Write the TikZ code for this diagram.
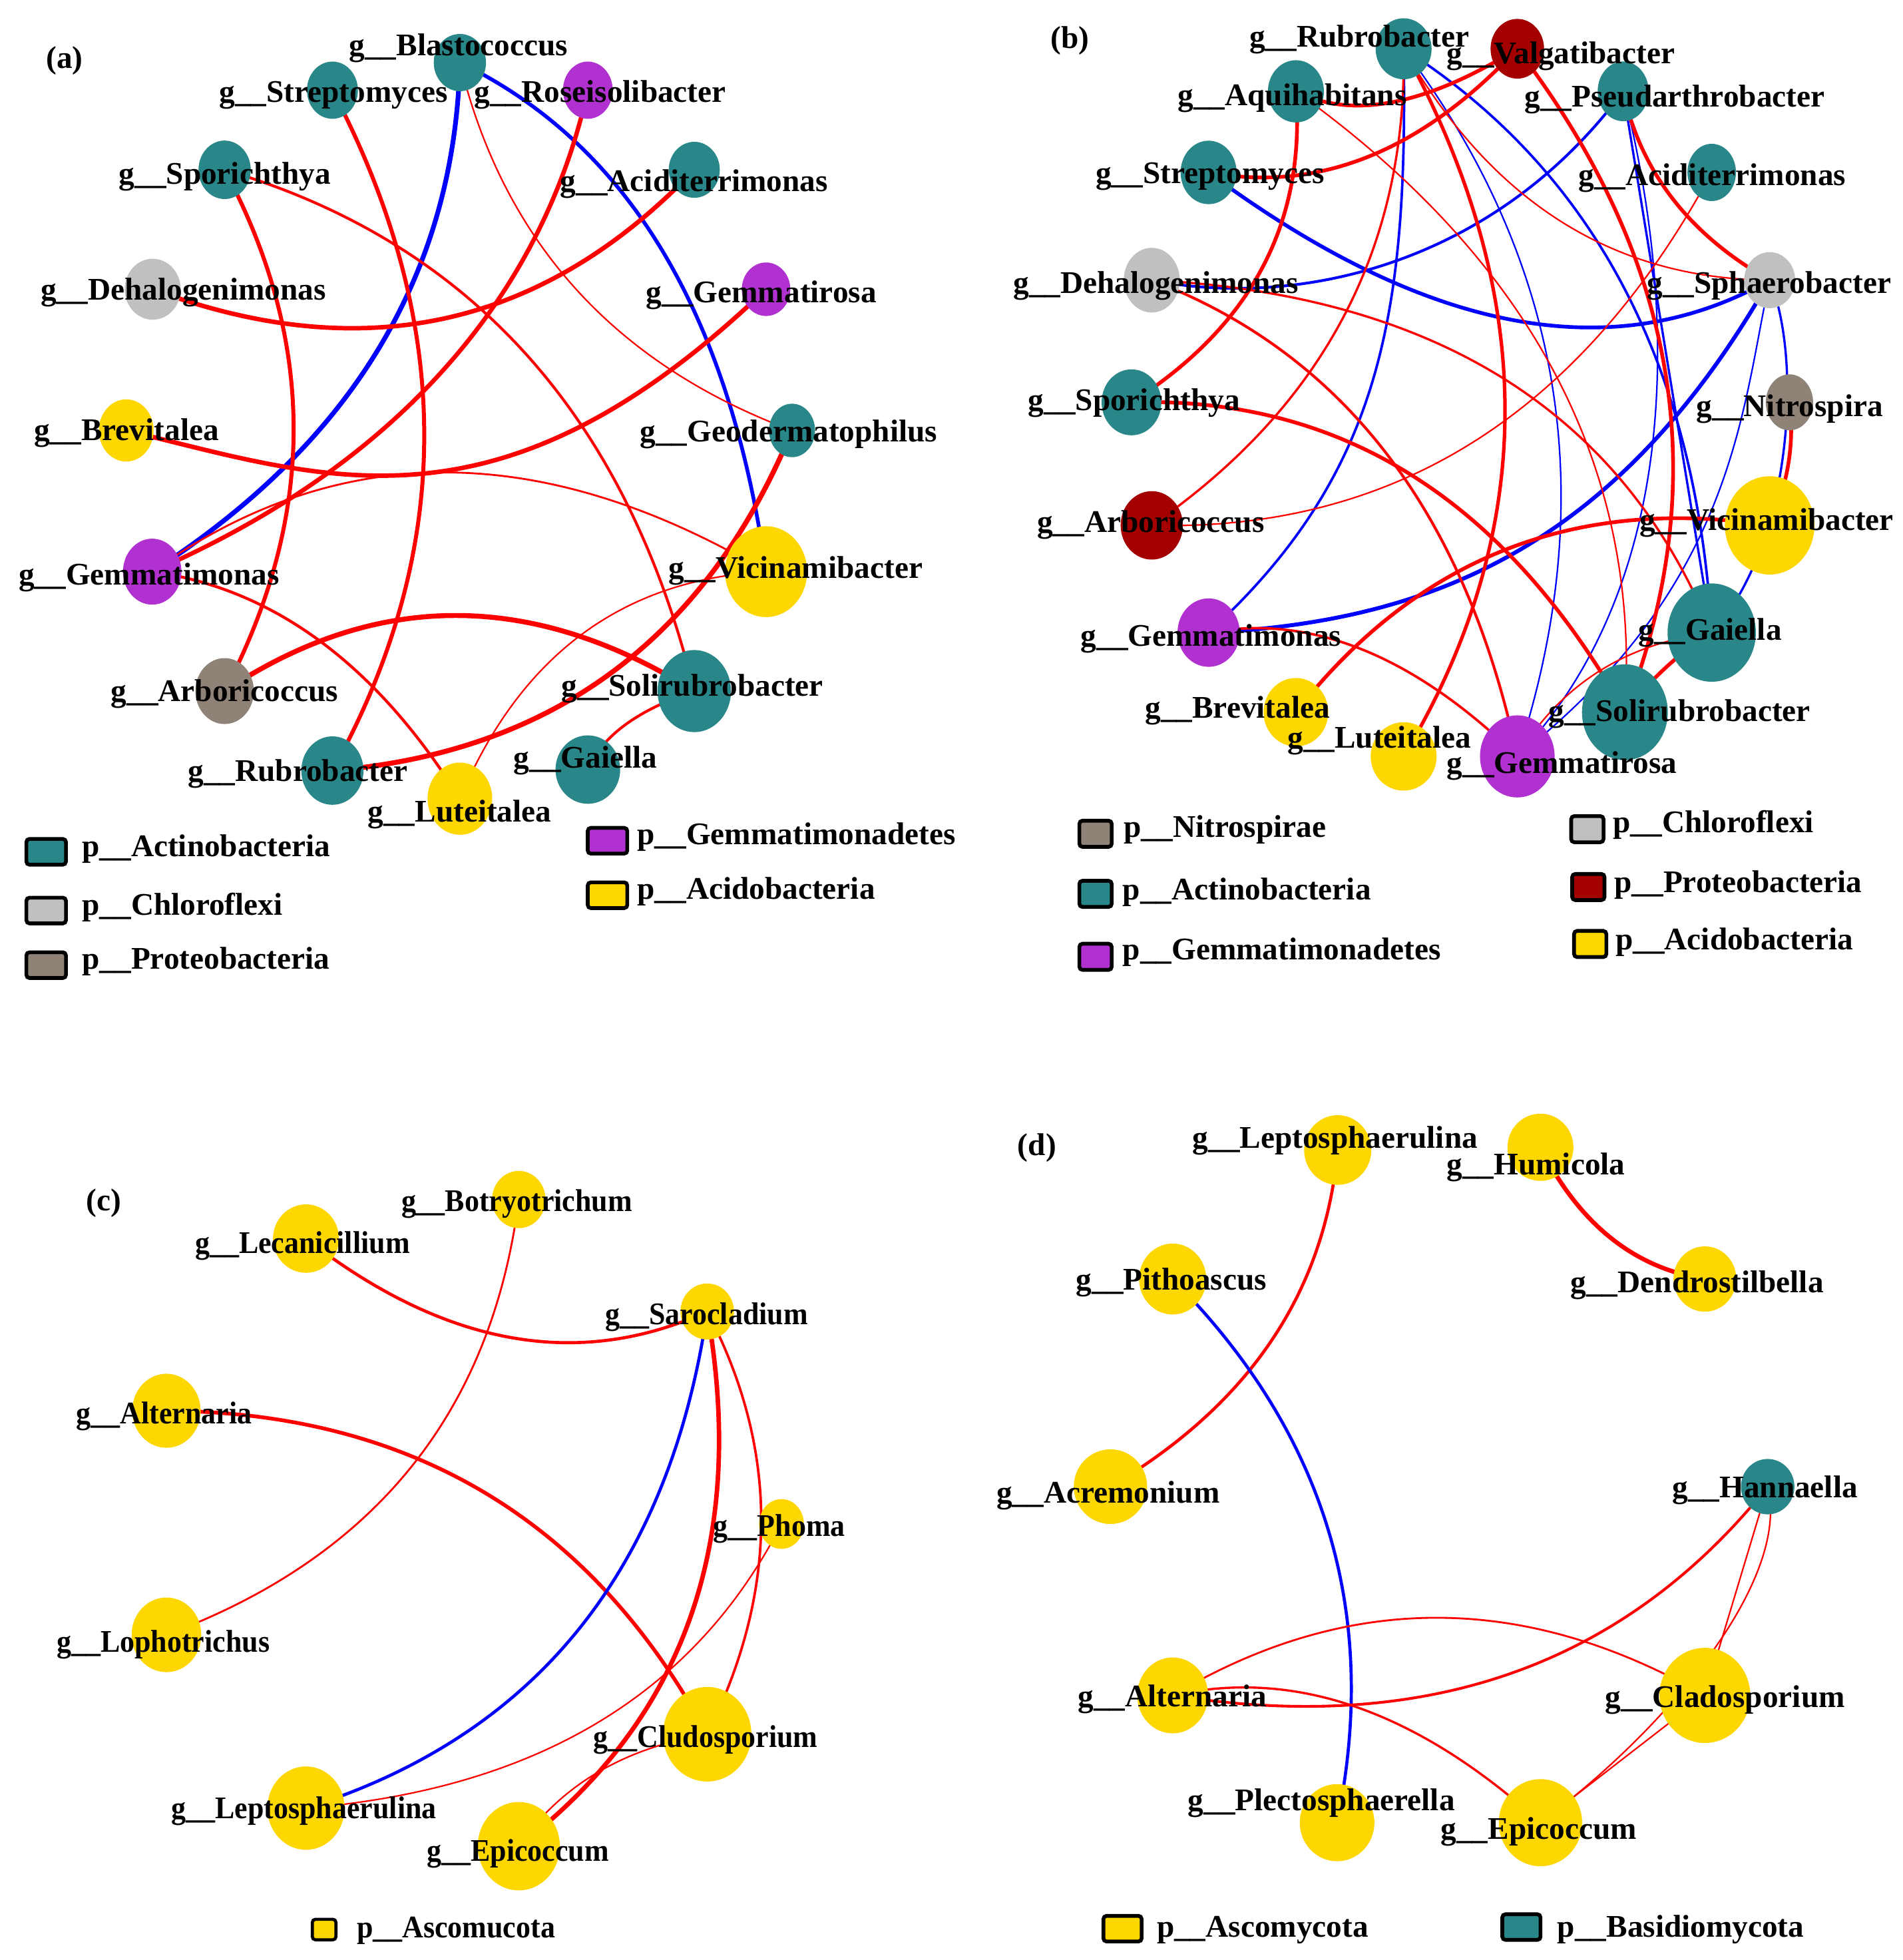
\documentclass[tikz,border=0pt]{standalone}
\usepackage{fontspec}
\setmainfont{Liberation Serif}
\newfontfamily\cfam{Liberation Serif}[FakeStretch=0.93]
\usetikzlibrary{shapes.geometric,calc}
\pgfdeclarelayer{bg}
\pgfsetlayers{bg,main}
\definecolor{teal2}{RGB}{41,135,137}
\definecolor{gold2}{RGB}{255,215,0}
\definecolor{purp}{RGB}{176,48,208}
\definecolor{grey2}{RGB}{192,192,192}
\definecolor{brgrey}{RGB}{143,130,118}
\definecolor{dred}{RGB}{165,0,0}
\definecolor{ered}{RGB}{255,0,0}
\definecolor{eblue}{RGB}{0,0,255}
\newcommand\labfont{\fontsize{25.3}{30}\selectfont\bfseries}
\newcommand\clabfont{\cfam\fontsize{25.3}{30}\selectfont\bfseries}
\tikzset{
 nodeell/.style={ellipse, inner sep=0pt, outer sep=0pt, draw=none},
 lab/.style={font=\labfont, inner sep=0pt, anchor=base west},
 clab/.style={font=\clabfont, inner sep=0pt, anchor=base west},
 lsq/.style={rectangle, rounded corners=2.5pt, draw=black, line width=3pt, inner sep=0pt},
 re/.style={draw=ered, line width=#1pt},
 be/.style={draw=eblue, line width=#1pt},
}
\newcommand\mknode[5]{\node[nodeell, fill=#1, minimum width=#4pt, minimum height=#5pt] (#2) at (#3) {};}
\newcommand\mklab[3]{\node[lab] (l#1) at (#2) {#3};}
\newcommand\mkclab[3]{\node[clab] (l#1) at (#2) {#3};}
\newcommand\qedge[4]{\draw[#1] (#2.center) .. controls ($(#2.center)!0.6667!(#4)$) and ($(#3.center)!0.6667!(#4)$) .. (#3.center);}
\begin{document}
\begin{tikzpicture}[x=1pt,y=-1pt]
\begin{pgfonlayer}{bg}
\fill[white] (0,0) rectangle (1530,1575.5);
\end{pgfonlayer}
\useasboundingbox (0,0) rectangle (1530,1575.5);

%================ (a) ================
\begin{scope}[xscale=0.995]
\mknode{teal2}{aBla}{371.6,50.3}{42}{46}
\mknode{teal2}{aStr}{268.6,72.5}{41}{46}
\mknode{purp}{aRos}{475,72.5}{40}{46}
\mknode{teal2}{aSpo}{181.5,136.5}{42}{47}
\mknode{teal2}{aAci}{561,136.5}{41}{45}
\mknode{grey2}{aDeh}{123.4,232.5}{45}{49}
\mknode{purp}{aGmr}{619,232.5}{39}{43}
\mknode{gold2}{aBre}{102,346}{44}{50}
\mknode{teal2}{aGeo}{640,346}{37}{43}
\mknode{purp}{aGmn}{123,459.5}{47}{53}
\mknode{gold2}{aVic}{619,459.5}{66}{73}
\mknode{brgrey}{aArb}{181.5,555.5}{47}{53}
\mknode{teal2}{aSol}{561,555.5}{59}{66}
\mknode{teal2}{aRub}{268.6,619.4}{50}{55}
\mknode{teal2}{aGai}{475,618.6}{52}{55}
\mknode{gold2}{aLut}{371.6,642}{52}{58}
\begin{pgfonlayer}{bg}
\qedge{be=3.8}{aBla}{aGmn}{365,305}
\qedge{be=3}{aBla}{aVic}{575,148}
\qedge{re=3.2}{aStr}{aRub}{417,354}
\qedge{re=3.2}{aSpo}{aArb}{293,344}
\qedge{re=2.2}{aSpo}{aSol}{479,223.5}
\qedge{re=3.6}{aDeh}{aAci}{378,327}
\draw[re=3.5] (aRos.center) .. controls (440,230) and (330,370) .. (aGmn.center);
\qedge{re=1.5}{aGmn}{aVic}{347,300}
\draw[re=3.6] (aBre.center) .. controls (263.4,384.7) and (403,438.2) .. (aGmr.center);
\qedge{re=2.3}{aGmn}{aLut}{270,480}
\qedge{re=4}{aArb}{aSol}{365,434}
\qedge{re=4}{aRub}{aGeo}{535.5,597.5}
\qedge{re=2.2}{aGai}{aSol}{492,578.5}
\qedge{re=1.2}{aLut}{aVic}{445,469}
\qedge{re=1.2}{aBla}{aGeo}{424.5,266}
\end{pgfonlayer}
\node[lab, anchor=base] (pa) at (52.2,55) {(a)};
\mklab{aBla}{282,44.8}{g\_\_Blastococcus}
\mklab{aStr}{177,82.3}{g\_\_Streptomyces}
\mklab{aRos}{383,82.3}{g\_\_Roseisolibacter}
\mklab{aSpo}{96,148}{g\_\_Sporichthya}
\mklab{aAci}{452.6,153.6}{g\_\_Aciditerrimonas}
\mklab{aDeh}{32.8,241}{g\_\_Dehalogenimonas}
\mklab{aGmr}{522,243}{g\_\_Gemmatirosa}
\mklab{aBre}{27.4,354}{g\_\_Brevitalea}
\mklab{aGeo}{517,355}{g\_\_Geodermatophilus}
\mklab{aGmn}{15,470}{g\_\_Gemmatimonas}
\mklab{aVic}{540,465}{g\_\_Vicinamibacter}
\mklab{aArb}{89.5,564}{g\_\_Arboricoccus}
\mklab{aSol}{453.6,559.7}{g\_\_Solirubrobacter}
\mklab{aRub}{151.7,628}{g\_\_Rubrobacter}
\mklab{aGai}{415,617.3}{g\_\_Gaiella}
\mklab{aLut}{297,660.4}{g\_\_Luteitalea}
% legend (a)
\node[lsq, fill=teal2, minimum width=31.8pt, minimum height=20.7pt] (aL1) at (37.3,684.7) {};
\node[lab] (aLt1) at (66.2,688.6) {p\_\_Actinobacteria};
\node[lsq, fill=grey2, minimum width=31.8pt, minimum height=20.7pt] (aL2) at (37.3,731.9) {};
\node[lab] (aLt2) at (66.2,735.8) {p\_\_Chloroflexi};
\node[lsq, fill=brgrey, minimum width=31.8pt, minimum height=20.7pt] (aL3) at (37.3,775.8) {};
\node[lab] (aLt3) at (66.2,778.7) {p\_\_Proteobacteria};
\node[lsq, fill=purp, minimum width=31.8pt, minimum height=20.7pt] (aL4) at (490.9,675.8) {};
\node[lab] (aLt4) at (514.8,678.8) {p\_\_Gemmatimonadetes};
\node[lsq, fill=gold2, minimum width=31.8pt, minimum height=20.7pt] (aL5) at (490.9,719.6) {};
\node[lab] (aLt5) at (514.8,722.5) {p\_\_Acidobacteria};
\end{scope}

%================ (b) ================
\mknode{teal2}{bRub}{1128.5,39.2}{45}{49}
\mknode{dred}{bVal}{1219.9,39.2}{43}{48}
\mknode{teal2}{bAqu}{1041.9,73.4}{45}{50}
\mknode{teal2}{bPse}{1305,73.4}{41}{48}
\mknode{teal2}{bStr}{971.7,138.6}{45}{51}
\mknode{teal2}{bAci}{1376.2,138.6}{39}{46}
\mknode{grey2}{bDeh}{926,225.2}{45}{52}
\mknode{grey2}{bSph}{1422.8,225.2}{41}{45}
\mknode{teal2}{bSpo}{909.7,323.4}{48}{53}
\mknode{brgrey}{bNit}{1438.7,323.4}{38}{45}
\mknode{dred}{bArb}{926,422.3}{50}{55}
\mknode{gold2}{bVic}{1422.8,422.3}{72}{79}
\mknode{purp}{bGmn}{971.7,508.5}{50}{55}
\mknode{teal2}{bGai}{1376.2,508.5}{71}{79}
\mknode{gold2}{bBre}{1041.9,572.5}{52}{55}
\mknode{teal2}{bSol}{1306.4,572.5}{69}{77}
\mknode{gold2}{bLut}{1128.5,608}{53}{55}
\mknode{purp}{bGmr}{1219.9,608}{60}{66}
\begin{pgfonlayer}{bg}
\draw[be=2] (bRub.center) .. controls (1132,250) and (1112,380) .. (bGmn.center);
\qedge{be=1.2}{bRub}{bGmr}{1321.8,296.4}
\qedge{be=2}{bRub}{bGai}{1357.6,186.1}
\draw[be=2.2] (bDeh.center) .. controls (1040,248) and (1200,215) .. (bPse.center);
\draw[be=1.8] (bPse.center) -- (bGai.center);
\draw[be=1.2] (bPse.center) .. controls (1345,230) and (1360,460) .. (bGmr.center);
\draw[be=1.2] (bSph.center) .. controls (1400,330) and (1395,470) .. (bGmr.center);
\draw[be=1.8] (bSph.center) .. controls (1450,290) and (1440,440) .. (bGai.center);
\qedge{be=3}{bStr}{bSph}{1232.75,332.1}
\draw[be=3.2] (bGmn.center) .. controls (1150,500) and (1300,440) .. (bSph.center);
\qedge{re=3}{bAqu}{bVal}{1109.1,107.7}
\qedge{re=3}{bStr}{bVal}{1104.2,163.1}
\qedge{re=3}{bAqu}{bSpo}{1054.2,231.6}
\qedge{re=1.2}{bAqu}{bSol}{1325.85,277}
\qedge{re=3}{bVal}{bSol}{1414.85,294.15}
\qedge{re=3}{bPse}{bSph}{1326.1,170.7}
\qedge{re=1.2}{bRub}{bSph}{1234.35,223.8}
\qedge{re=1.2}{bArb}{bAci}{1218.9,429.55}
\qedge{re=1.8}{bArb}{bRub}{1132.75,279.25}
\qedge{re=2.8}{bRub}{bLut}{1291.5,336.4}
\qedge{re=2.2}{bDeh}{bGmr}{1157.05,313.4}
\qedge{re=1.8}{bDeh}{bGai}{1268.9,243.15}
\qedge{re=3}{bSpo}{bSol}{1161.95,316.05}
\qedge{re=2}{bGmn}{bGmr}{1094.2,485.75}
\qedge{re=3}{bBre}{bVic}{1187.65,386.6}
\qedge{re=3}{bGai}{bSol}{1338,532}
\qedge{re=1.2}{bGai}{bGmr}{1271.95,521.75}
\qedge{re=3}{bNit}{bVic}{1445,372}
\end{pgfonlayer}
\node[lab, anchor=base] (pb) at (860.2,39) {(b)};
\mklab{bRub}{1004.4,37.5}{g\_\_Rubrobacter}
\mklab{bVal}{1163.1,51}{g\_\_Valgatibacter}
\mklab{bAqu}{946.7,85}{g\_\_Aquihabitans}
\mklab{bPse}{1225.6,86}{g\_\_Pseudarthrobacter}
\mklab{bStr}{880.8,147.3}{g\_\_Streptomyces}
\mklab{bAci}{1268.9,149}{g\_\_Aciditerrimonas}
\mklab{bDeh}{814.5,235.5}{g\_\_Dehalogenimonas}
\mklab{bSph}{1324,235.7}{g\_\_Sphaerobacter}
\mklab{bSpo}{826.5,330}{g\_\_Sporichthya}
\mklab{bNit}{1363.8,334.5}{g\_\_Nitrospira}
\mklab{bArb}{833.7,428}{g\_\_Arboricoccus}
\mklab{bVic}{1318,426}{g\_\_Vicinamibacter}
\mklab{bGmn}{868.8,519.5}{g\_\_Gemmatimonas}
\mklab{bGai}{1317,514.5}{g\_\_Gaiella}
\mklab{bBre}{920.5,577}{g\_\_Brevitalea}
\mklab{bSol}{1244.9,580}{g\_\_Solirubrobacter}
\mklab{bLut}{1035,601}{g\_\_Luteitalea}
\mklab{bGmr}{1163.1,621.8}{g\_\_Gemmatirosa}
% legend (b)
\node[lsq, fill=brgrey, minimum width=26pt, minimum height=21pt] (bL1) at (880.8,670.2) {};
\node[lab] (bLt1) at (903.4,673) {p\_\_Nitrospirae};
\node[lsq, fill=teal2, minimum width=26pt, minimum height=21pt] (bL2) at (880.8,718.5) {};
\node[lab] (bLt2) at (902.5,723.5) {p\_\_Actinobacteria};
\node[lsq, fill=purp, minimum width=26pt, minimum height=21pt] (bL3) at (880.8,769.1) {};
\node[lab] (bLt3) at (902.5,771.5) {p\_\_Gemmatimonadetes};
\node[lsq, fill=grey2, minimum width=26pt, minimum height=21pt] (bL4) at (1276.2,666.5) {};
\node[lab] (bLt4) at (1296.8,669) {p\_\_Chloroflexi};
\node[lsq, fill=dred, minimum width=26pt, minimum height=21pt] (bL5) at (1277,713) {};
\node[lab] (bLt5) at (1297.8,717.5) {p\_\_Proteobacteria};
\node[lsq, fill=gold2, minimum width=26pt, minimum height=21pt] (bL6) at (1278.5,758.8) {};
\node[lab] (bLt6) at (1298.7,763.5) {p\_\_Acidobacteria};

%================ (c) ================
\mknode{gold2}{cBot}{417.1,964.2}{43}{46}
\mknode{gold2}{cLec}{246,995.6}{53}{55}
\mknode{gold2}{cSar}{568.6,1054.2}{43}{45}
\mknode{gold2}{cAlt}{133.8,1134}{55}{59.5}
\mknode{gold2}{cPho}{628.3,1225}{36}{40}
\mknode{gold2}{cLop}{133.8,1314.1}{56}{60}
\mknode{gold2}{cClu}{568.6,1394}{71}{76}
\mknode{gold2}{cLep}{246,1453.4}{62}{67}
\mknode{gold2}{cEpi}{417.1,1484}{66}{71}
\begin{pgfonlayer}{bg}
\qedge{re=2.5}{cLec}{cSar}{412.7,1125.1}
\qedge{re=1.5}{cBot}{cLop}{384.5,1220.8}
\qedge{re=3}{cAlt}{cClu}{428.8,1136}
\qedge{be=2.5}{cSar}{cLep}{522.7,1366.2}
\qedge{re=3.6}{cSar}{cEpi}{617.2,1330.9}
\qedge{re=2}{cSar}{cClu}{655.4,1220}
\qedge{re=1.2}{cPho}{cLep}{522.85,1430.8}
\qedge{re=1.2}{cClu}{cEpi}{467.15,1411}
\end{pgfonlayer}
\node[lab, anchor=base] (pc) at (83.6,973.3) {(c)};
\mkclab{cBot}{322.5,973.5}{g\_\_Botryotrichum}
\mkclab{cLec}{156.7,1007.5}{g\_\_Lecanicillium}
\mkclab{cSar}{486.4,1064.8}{g\_\_Sarocladium}
\mkclab{cAlt}{61.2,1144.2}{g\_\_Alternaria}
\mkclab{cPho}{573.4,1234.7}{g\_\_Phoma}
\mkclab{cLop}{45.4,1328.1}{g\_\_Lophotrichus}
\mkclab{cClu}{476.8,1404.6}{g\_\_Cludosporium}
\mkclab{cLep}{137.6,1461.9}{g\_\_Leptosphaerulina}
\mkclab{cEpi}{343,1495.9}{g\_\_Epicoccum}
\node[lsq, line width=2.5pt, fill=gold2, minimum width=19pt, minimum height=16.5pt] (cL1) at (260.6,1551) {};
\node[clab] (cLt1) at (286.7,1557.5) {p\_\_Ascomucota};

%================ (d) ================
\mknode{gold2}{dLep}{1075.5,924.4}{54}{56}
\mknode{gold2}{dHum}{1238.5,922.2}{53}{54}
\mknode{gold2}{dPit}{942.8,1028.1}{54}{57}
\mknode{gold2}{dDen}{1370.7,1028.1}{50.5}{52.5}
\mknode{gold2}{dAcr}{892.8,1195}{59}{60}
\mknode{teal2}{dHan}{1421.2,1195}{43}{44.5}
\mknode{gold2}{dAlt}{942.8,1362.8}{57}{61}
\mknode{gold2}{dCla}{1370.7,1362.8}{73}{76.5}
\mknode{gold2}{dPle}{1075,1465.1}{60}{62}
\mknode{gold2}{dEpi}{1238.5,1465.1}{67}{70}
\begin{pgfonlayer}{bg}
\qedge{re=2.5}{dLep}{dAcr}{1059.85,1096.3}
\qedge{be=2.5}{dPit}{dPle}{1127,1213.4}
\qedge{re=3.5}{dHum}{dDen}{1285.4,1014.85}
\qedge{re=2.2}{dHan}{dAlt}{1248,1411.1}
\qedge{re=1.5}{dAlt}{dCla}{1153,1238}
\qedge{re=1.8}{dAlt}{dEpi}{1089.35,1330}
\draw[re=1.2] (dHan.center) -- (dCla.center);
\draw[re=1.2] (dHan.center) .. controls (1440,1270) and (1340,1390) .. (dEpi.center);
\draw[re=1.2] (dCla.center) -- (dEpi.center);
\end{pgfonlayer}
\node[lab, anchor=base] (pd) at (833.7,928.8) {(d)};
\mklab{dLep}{958.7,923.1}{g\_\_Leptosphaerulina}
\mklab{dHum}{1163,944.5}{g\_\_Humicola}
\mklab{dPit}{865,1037}{g\_\_Pithoascus}
\mklab{dDen}{1262.6,1038.8}{g\_\_Dendrostilbella}
\mklab{dAcr}{801,1207.9}{g\_\_Acremonium}
\mklab{dHan}{1344.3,1203.9}{g\_\_Hannaella}
\mklab{dAlt}{866.4,1371.7}{g\_\_Alternaria}
\mklab{dCla}{1290.5,1372.5}{g\_\_Cladosporium}
\mklab{dPle}{954.9,1455.3}{g\_\_Plectosphaerella}
\mklab{dEpi}{1158.2,1478.5}{g\_\_Epicoccum}
\node[lsq, fill=gold2, minimum width=30.7pt, minimum height=20.6pt] (dL1) at (902.5,1550.3) {};
\node[lab] (dLt1) at (929.9,1557) {p\_\_Ascomycota};
\node[lsq, fill=teal2, minimum width=30.7pt, minimum height=20.6pt] (dL2) at (1223.2,1549) {};
\node[lab] (dLt2) at (1252,1557) {p\_\_Basidiomycota};
\end{tikzpicture}
\end{document}
